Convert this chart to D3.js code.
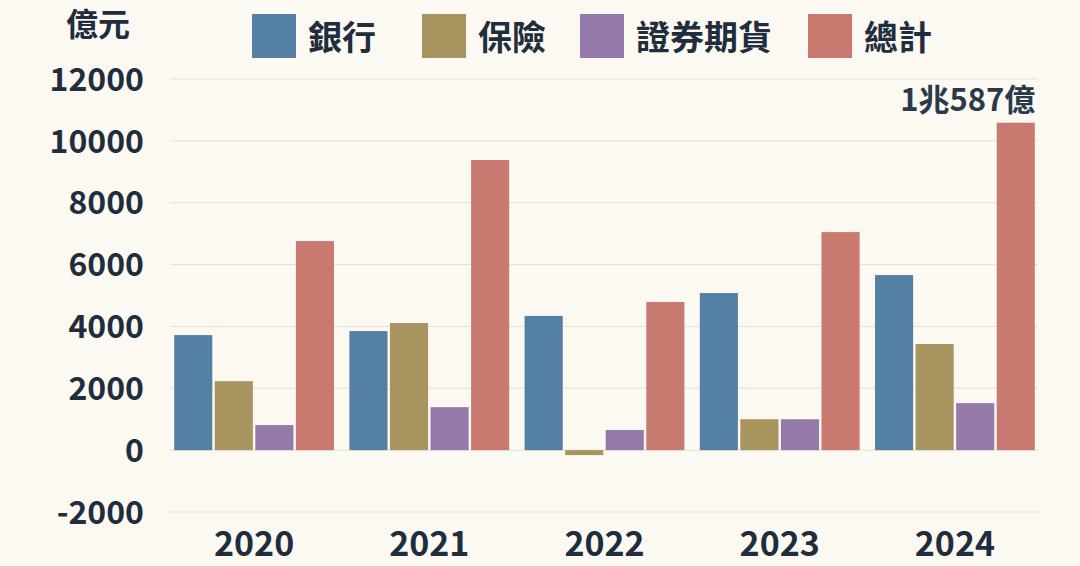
<!DOCTYPE html>
<html><head><meta charset="utf-8">
<script src="https://cdn.jsdelivr.net/npm/d3@7"></script>
<style>
body{margin:0;background:#fbf9f1;}
text{font-family:"Noto Sans CJK TC","Noto Sans",sans-serif;font-weight:700;fill:#1f2d3d;}
</style></head><body>
<svg id="chart" width="1080" height="566"></svg>
<script>
const years = ["2020", "2021", "2022", "2023", "2024"];
const seriesNames = ["銀行", "保險", "證券期貨", "總計"];
const bank = [3720, 3850, 4340, 5080, 5660];
const insurance = [2230, 4110, -160, 1000, 3430];
const securities = [810, 1390, 650, 1000, 1520];
const total = [6760, 9380, 4790, 7050, 10587];
const yTicks = [-2000, 0, 2000, 4000, 6000, 8000, 10000, 12000];
const colors = ["#5580a5", "#a8945f", "#9479aa", "#c97a70"];

const svg = d3.select("#chart");
const x0 = d3.scaleBand().domain(years).range([170, 1039]).paddingInner(0.06).paddingOuter(0.01);
const x1 = d3.scaleBand().domain(seriesNames).range([0, x0.bandwidth()]).padding(0.06);
const y = d3.scaleLinear().domain([-2000, 12000]).range([512, 79]);

// grid
svg.append("g").selectAll("line").data(yTicks).enter().append("line")
    .attr("x1", 170).attr("x2", 1038)
    .attr("y1", d => y(d)).attr("y2", d => y(d))
    .style("stroke", "#e3e0d6").style("stroke-width", 1);

const yAxis = svg.append("g").attr("transform", "translate(150,0)")
    .call(d3.axisLeft(y).tickValues(yTicks).tickSize(0).tickFormat(d => String(d)));
yAxis.select(".domain").remove();
yAxis.selectAll("text").style("font-size", "32px").attr("x", -6).attr("dy", "0.35em");

const xAxis = svg.append("g").attr("transform", "translate(0,527)")
    .call(d3.axisBottom(x0).tickSize(0));
xAxis.select(".domain").remove();
xAxis.selectAll("text").style("font-size", "34px").attr("dy", "0.75em");

const series = [bank, insurance, securities, total];
const rows = years.map((yr, i) => ({ year: yr, vals: series.map(s => s[i]) }));

svg.append("g").selectAll("g").data(rows).enter().append("g")
    .attr("transform", d => `translate(${x0(d.year)},0)`)
    .selectAll("rect").data(d => d.vals.map((v, k) => ({ v, k })))
    .enter().append("rect")
    .attr("x", d => x1(seriesNames[d.k]))
    .attr("width", x1.bandwidth())
    .attr("y", d => y(Math.max(0, d.v)))
    .attr("height", d => Math.abs(y(d.v) - y(0)))
    .style("fill", d => colors[d.k]);

// annotation
svg.append("text")
    .attr("x", x0("2024") + x1("總計") + x1.bandwidth() / 2 - 48)
    .attr("y", y(total[4]) - 12)
    .attr("text-anchor", "middle").style("font-size", "31px").style("fill", "#2b3a4a")
    .text("1兆587億");

// unit
svg.append("text").attr("x", 66).attr("y", 36).style("font-size", "32px").text("億元");

// legend
const legendX = [252, 422, 580, 808];
const lg = svg.append("g").selectAll("g").data(seriesNames).enter().append("g")
    .attr("transform", (d, i) => `translate(${legendX[i]},14)`);
lg.append("rect").attr("width", 44).attr("height", 44).style("fill", (d, i) => colors[i]);
lg.append("text").attr("x", 56).attr("y", 36).style("font-size", "34px").text(d => d);
</script>
</body></html>
